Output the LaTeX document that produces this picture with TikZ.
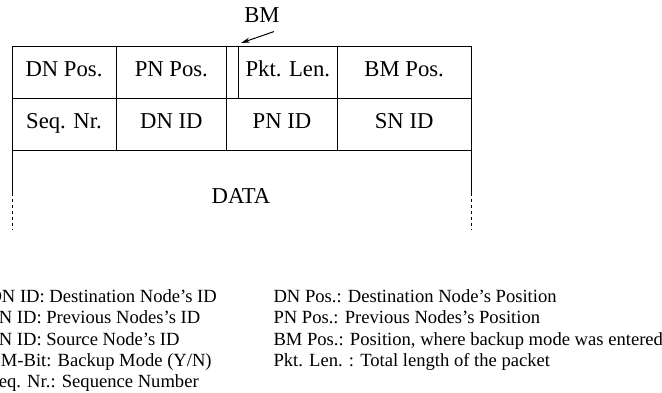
\documentclass[tikz,border=0pt]{standalone}
\usepackage{fontspec}
\setmainfont{Liberation Serif}
\usepackage{tikz}
\usetikzlibrary{positioning}
\usetikzlibrary{calc,arrows.meta}
\newcommand{\cellfont}{\fontsize{22.7pt}{27pt}\selectfont}
\newcommand{\legfont}{\fontsize{18.6pt}{21.2pt}\selectfont}
\tikzset{
  cell/.style = {draw=black, line width=1pt, minimum height=52pt,
    inner sep=0pt, outer sep=0pt, text height=0.75em, text depth=0pt,
    font=\cellfont},% one field of the header
  lbl/.style = {inner sep=0pt, font=\cellfont},
  legend/.style = {inner sep=0pt, anchor=base west, font=\legfont}
}

\begin{document}
\begin{tikzpicture}[x=1pt,y=-1pt,line width=1pt]
\useasboundingbox (0,0) rectangle (662,393);
% first row
\node [cell, minimum width=104pt, anchor=north west] (dnpos) at (12,46.7) {DN Pos.};
\node [cell, minimum width=110.7pt, right=0pt of dnpos] (pnpos) {PN Pos.};
\node [cell, minimum width=11.6pt, right=0pt of pnpos] (bmbit) {};
\node [cell, minimum width=99pt, right=0pt of bmbit] (pktlen) {Pkt. Len.};
\node [cell, minimum width=133.7pt, right=0pt of pktlen] (bmpos) {BM Pos.};
% second row
\node [cell, minimum width=104pt, below=0pt of dnpos] (seqnr) {Seq. Nr.};
\node [cell, minimum width=110.7pt, right=0pt of seqnr] (dnid) {DN ID};
\node [cell, minimum width=110.6pt, right=0pt of dnid] (pnid) {PN ID};
\node [cell, minimum width=133.7pt, right=0pt of pnid] (snid) {SN ID};
% data part, open at the bottom
\node [lbl, anchor=base] (data) at (241,204) {DATA};
\coordinate (dl) at ($(seqnr.south west)+(0,42)$);
\coordinate (dr) at ($(snid.south east)+(0,42)$);
\draw (seqnr.south west) -- (dl);
\draw (snid.south east) -- (dr);
\draw [dash pattern=on 3pt off 3pt] (dl) -- ++(0,37);
\draw [dash pattern=on 3pt off 3pt] (dr) -- ++(0,37);
% BM bit pointer
\node [lbl, anchor=base] (bm) at (262,23) {BM};
\coordinate (bmtip) at (241,43);
\draw [-{Stealth[length=9pt,width=5pt]}] ([xshift=12pt,yshift=-8pt]bm.south) -- (bmtip);
% legend
\foreach \txt [count=\i] in {{DN ID: Destination Node's ID},
    {PN ID: Previous Nodes's ID}, {SN ID: Source Node's ID},
    {BM-Bit: Backup Mode (Y/N)}, {Seq. Nr.: Sequence Number}}
  \node [legend] (legl\i) at (-12,281.5+21.2*\i) {\txt};
\foreach \txt [count=\i] in {{DN Pos.: Destination Node's Position},
    {PN Pos.: Previous Nodes's Position},
    {BM Pos.: Position, where backup mode was entered},
    {Pkt. Len. : Total length of the packet}}
  \node [legend] (legr\i) at (273,281.5+21.2*\i) {\txt};
\end{tikzpicture}
\end{document}
